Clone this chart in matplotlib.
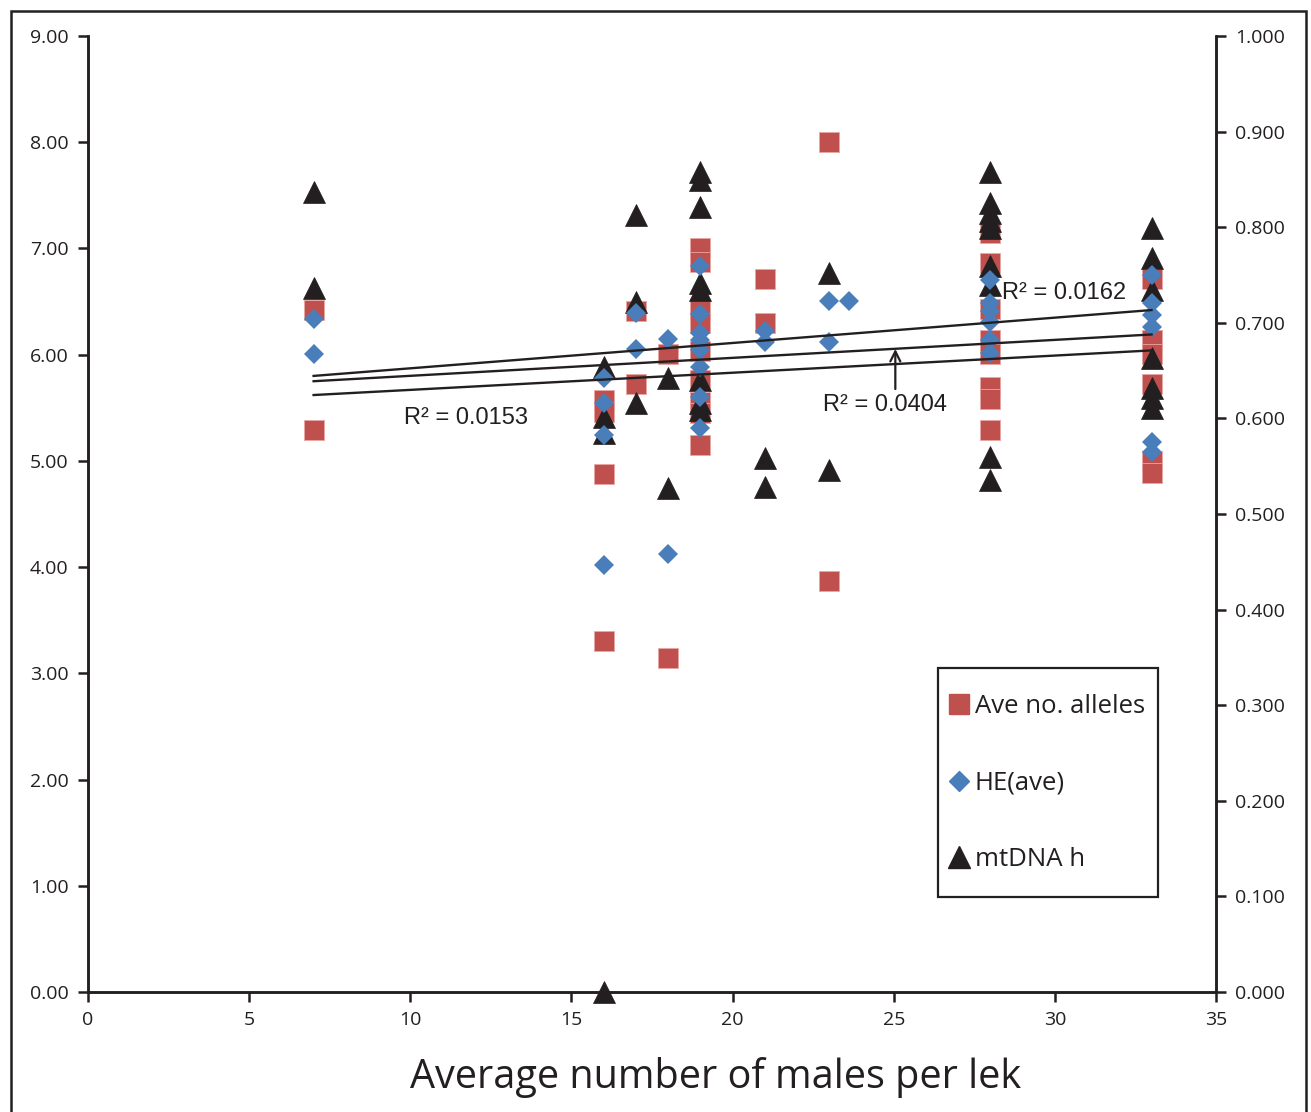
import numpy as np
import matplotlib.pyplot as plt
from matplotlib.patches import Rectangle

# Ave no. alleles (left axis)
allele_x = [7, 7,
            16, 16, 16, 16,
            17, 17,
            18, 18,
            19, 19, 19, 19, 19, 19, 19, 19, 19,
            21, 21,
            23, 23,
            28, 28, 28, 28, 28, 28, 28, 28,
            33, 33, 33, 33, 33, 33]
allele_y = [6.42, 5.29,
            5.57, 5.46, 4.88, 3.30,
            6.41, 5.72,
            6.01, 3.14,
            7.00, 6.87, 6.43, 6.30, 6.03, 5.76, 5.55, 5.45, 5.15,
            6.71, 6.30,
            8.00, 3.87,
            7.15, 6.86, 6.43, 6.14, 6.01, 5.70, 5.58, 5.29,
            6.71, 6.14, 6.01, 5.72, 5.00, 4.89]

# HE(ave) (right axis)
he_x = [7, 7,
        16, 16, 16, 16,
        17, 17,
        18, 18,
        19, 19, 19, 19, 19, 19, 19, 19,
        21, 21,
        23, 23, 23.6,
        28, 28, 28, 28, 28, 28,
        33, 33, 33, 33, 33, 33]
he_y = [0.704, 0.667,
        0.642, 0.616, 0.583, 0.447,
        0.710, 0.673,
        0.683, 0.458,
        0.759, 0.709, 0.689, 0.682, 0.672, 0.654, 0.622, 0.590,
        0.691, 0.680,
        0.723, 0.680, 0.723,
        0.745, 0.721, 0.712, 0.701, 0.682, 0.668,
        0.750, 0.721, 0.708, 0.696, 0.575, 0.565]

# mtDNA h (right axis)
mt_x = [7, 7,
        16, 16, 16, 16,
        17, 17, 17,
        18, 18,
        19, 19, 19, 19, 19, 19, 19, 19,
        21, 21,
        23, 23,
        28, 28, 28, 28, 28, 28, 28, 28, 28,
        33, 33, 33, 33, 33, 33, 33]
mt_y = [0.837, 0.736,
        0.654, 0.601, 0.585, 0.000,
        0.813, 0.722, 0.616,
        0.642, 0.527,
        0.858, 0.849, 0.821, 0.742, 0.734, 0.640, 0.616, 0.609,
        0.559, 0.528,
        0.752, 0.546,
        0.858, 0.825, 0.815, 0.806, 0.799, 0.759, 0.740, 0.560, 0.536,
        0.799, 0.768, 0.734, 0.663, 0.632, 0.621, 0.611]

# linear trendlines (left-axis units) at x = 7 and x = 33
trend_x = [7, 33]
trend_top = [5.80, 6.42]
trend_mid = [5.75, 6.19]
trend_low = [5.62, 6.04]

red = '#C0504D'
blue = '#4A7EBB'
black = '#231F20'

fig = plt.figure(figsize=(13.11, 11.12), dpi=100)
ax = fig.add_axes([88 / 1311, 1 - 992 / 1112, (1216 - 88) / 1311, (992 - 36) / 1112])
ax2 = ax.twinx()

ax.plot(allele_x, allele_y, 's', color=red, markersize=14.5, markeredgecolor='#E8A6A4',
        markeredgewidth=0.6, linestyle='none', zorder=3)
ax2.plot(mt_x, mt_y, '^', color=black, markersize=16, markeredgecolor=black,
         markeredgewidth=0.5, linestyle='none', zorder=3, clip_on=False)
ax2.plot(he_x, he_y, 'D', color=blue, markersize=10.5, markeredgewidth=0,
         linestyle='none', zorder=4)

for ty in (trend_top, trend_mid, trend_low):
    ax2.plot(trend_x, np.array(ty) / 9.0, '-', color=black, linewidth=1.7, zorder=5)

ax.set_xlim(0, 35)
ax.set_ylim(0, 9)
ax2.set_ylim(0, 1)
ax.set_xticks(np.arange(0, 36, 5))
ax.set_yticks(np.arange(0, 10, 1))
ax2.set_yticks(np.arange(0, 1.01, 0.1))
ax.set_yticklabels([f'{v:.2f}' for v in np.arange(0, 10, 1)])
ax2.set_yticklabels([f'{v:.3f}' for v in np.arange(0, 1.01, 0.1)])

for a in (ax, ax2):
    a.spines['top'].set_visible(False)
    for s in a.spines.values():
        s.set_linewidth(1.8)
        s.set_color(black)
    a.tick_params(direction='out', length=7, width=1.8, color=black,
                  labelsize=14, labelcolor=black, pad=7)
    for lab in a.get_xticklabels() + a.get_yticklabels():
        lab.set_family('Open Sans')

ax.set_xlabel('Average number of males per lek', fontsize=28.5, family='Open Sans',
              color=black)
ax.xaxis.set_label_coords((716 - 88) / 1128, -(1077 - 992) / 956, transform=ax.transAxes)
ax.xaxis.label.set_va('center')

ax.text(28.35, 6.58, 'R² = 0.0162', fontsize=17, family='Liberation Sans',
        color=black, va='center', ha='left', zorder=6)
ax.text(9.8, 5.40, 'R² = 0.0153', fontsize=17, family='Liberation Sans',
        color=black, va='center', ha='left', zorder=6)
ax.text(22.8, 5.53, 'R² = 0.0404', fontsize=17, family='Liberation Sans',
        color=black, va='center', ha='left', zorder=6)
ax.annotate('', xy=(25.05, 6.08), xytext=(25.05, 5.65),
            arrowprops=dict(arrowstyle='->', color=black, lw=1.6, mutation_scale=18))

handles = [
    plt.Line2D([], [], marker='s', color=red, markersize=14, linestyle='none'),
    plt.Line2D([], [], marker='D', color=blue, markersize=10.5, linestyle='none'),
    plt.Line2D([], [], marker='^', color=black, markersize=16, linestyle='none'),
]
leg = ax.legend(handles, ['Ave no. alleles', 'HE(ave)', 'mtDNA h'],
                loc='center', bbox_to_anchor=((1047 - 88) / 1128, (992 - 783) / 956),
                frameon=False, prop={'family': 'Open Sans', 'size': 18.5},
                labelspacing=2.0, handlelength=0.8, handletextpad=0.2,
                borderpad=0, borderaxespad=0)
for t in leg.get_texts():
    t.set_color(black)

# legend box
ax.add_patch(Rectangle(((938 - 88) / 1128, (992 - 897) / 956), 220 / 1128, 229 / 956,
                       transform=ax.transAxes, fill=False, edgecolor=black,
                       linewidth=1.6, zorder=7))

fig.patches.append(Rectangle((11 / 1311, -0.05), (1306 - 11) / 1311, 1.05 - 11 / 1112,
                             transform=fig.transFigure, fill=False, edgecolor=black,
                             linewidth=1.8, clip_on=False))

fig.savefig('out.png', dpi=100)
